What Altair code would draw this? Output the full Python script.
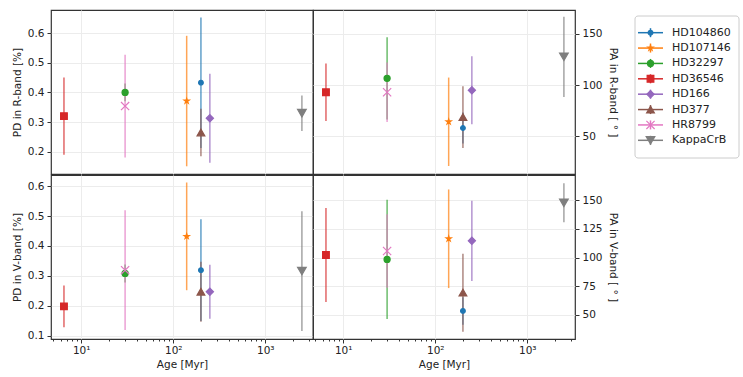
import altair as alt
import pandas as pd

series = ["HD104860", "HD107146", "HD32297", "HD36546", "HD166", "HD377", "HR8799", "KappaCrB"]
age = [200, 140, 30, 6.5, 250, 200, 30, 2500]

pd_r = [0.433, 0.371, 0.40, 0.32, 0.313, 0.265, 0.354, 0.33]
pd_r_err = [0.22, 0.22, 0.03, 0.13, 0.15, 0.08, 0.173, 0.06]
pd_v = [0.319, 0.432, 0.308, 0.198, 0.247, 0.247, 0.319, 0.316]
pd_v_err = [0.17, 0.18, 0.03, 0.07, 0.09, 0.10, 0.20, 0.20]
pa_r = [58.2, 64.3, 106.6, 93.0, 94.9, 68.9, 93.0, 127.5]
pa_r_err = [15, 43, 40, 28, 33, 30, 29, 39]
pa_v = [53.5, 116.4, 98.4, 102.2, 114.6, 69.4, 105.7, 147.7]
pa_v_err = [12, 43, 52, 41, 35, 34, 32, 17]

colors = ["#1f77b4", "#ff7f0e", "#2ca02c", "#d62728", "#9467bd", "#8c564b", "#e377c2", "#7f7f7f"]
STAR = ("M0,-1L0.225,-0.309L0.951,-0.309L0.363,0.118L0.588,0.809L0,0.382"
        "L-0.588,0.809L-0.363,0.118L-0.951,-0.309L-0.225,-0.309Z")
XMARK = "M-1,-1L1,1M-1,1L1,-1"
shapes = ["circle", STAR, "circle", "square", "diamond", "triangle-up", XMARK, "triangle-down"]
sizes = [22, 75, 55, 52, 75, 60, 40, 60]

df = pd.DataFrame({
    "series": series, "age": age,
    "pd_r": pd_r, "pd_r_err": pd_r_err, "pd_v": pd_v, "pd_v_err": pd_v_err,
    "pa_r": pa_r, "pa_r_err": pa_r_err, "pa_v": pa_v, "pa_v_err": pa_v_err,
})

FONT = "DejaVu Sans"
GRID = "#ececec"
W, H = 262, 164

cscale = alt.Scale(domain=series, range=colors)
sscale = alt.Scale(domain=series, range=shapes)
zscale = alt.Scale(domain=series, range=sizes)
xscale = alt.Scale(type="log", domain=[4.7, 3300], nice=False)

decades = [10, 100, 1000]
all_ticks = [5, 6, 7, 8, 9, 10, 20, 30, 40, 50, 60, 70, 80, 90, 100,
             200, 300, 400, 500, 600, 700, 800, 900, 1000, 2000, 3000]
is_major = "indexof([10,100,1000], datum.value) >= 0"


def x_axis(show):
    if show:
        return alt.Axis(
            values=all_ticks, title="Age [Myr]", grid=True,
            gridColor=GRID, gridOpacity={"condition": {"test": is_major, "value": 1}, "value": 0},
            tickSize={"condition": {"test": is_major, "value": 4}, "value": 2},
            labelExpr="datum.value == 10 ? '10¹' : datum.value == 100 ? '10²' : datum.value == 1000 ? '10³' : ''",
            labelPadding=2, titlePadding=4, domain=False, tickColor="#333",
        )
    return alt.Axis(values=decades, labels=False, ticks=False, domain=False,
                    title=None, grid=True, gridColor=GRID, minExtent=0, maxExtent=0)


def panel(ycol, title, domain, ticks, orient, show_x, fmt):
    scale = alt.Scale(domain=domain, nice=False, zero=False)
    yaxis = alt.Axis(values=ticks, title=title, orient=orient, format=fmt, grid=True,
                     gridColor=GRID, tickSize=4, tickColor="#333", domain=False,
                     labelPadding=3, titlePadding=5)
    x = alt.X("age:Q", scale=xscale, axis=x_axis(show_x))
    base = alt.Chart(df).transform_calculate(
        lo=f"datum.{ycol} - datum.{ycol}_err",
        hi=f"datum.{ycol} + datum.{ycol}_err",
    )
    rules = base.mark_rule(strokeWidth=1.5, opacity=0.7).encode(
        x=x,
        y=alt.Y("lo:Q", scale=scale, axis=yaxis),
        y2="hi:Q",
        color=alt.Color("series:N", scale=cscale, legend=None),
    )
    points = base.mark_point(filled=True, opacity=1, strokeWidth=1.2).encode(
        x=x,
        y=alt.Y(f"{ycol}:Q", scale=scale, axis=yaxis),
        color=alt.Color("series:N", scale=cscale, legend=None),
        stroke=alt.Stroke("series:N", scale=cscale, legend=None),
        shape=alt.Shape("series:N", scale=sscale, legend=None),
        size=alt.Size("series:N", scale=zscale, legend=None),
    )
    return alt.layer(rules, points).properties(width=W, height=H)


tl = panel("pd_r", "PD in R-band [%]", [0.125, 0.678], [0.2, 0.3, 0.4, 0.5, 0.6], "left", False, ".1f")
tr = panel("pa_r", "PA in R-band [ ° ]", [13.5, 173], [50, 100, 150], "right", False, "d")
bl = panel("pd_v", "PD in V-band [%]", [0.089, 0.637], [0.1, 0.2, 0.3, 0.4, 0.5, 0.6], "left", True, ".1f")
br = panel("pa_v", "PA in V-band [ ° ]", [29, 172], [50, 75, 100, 125, 150], "right", True, "d")

grid = alt.vconcat(
    alt.hconcat(tl, tr, spacing=0, bounds="flush").resolve_scale(y="independent"),
    alt.hconcat(bl, br, spacing=0, bounds="flush").resolve_scale(y="independent"),
    spacing=-2.4,
).resolve_scale(y="independent")

# legend panel
LW, LH = 106, 148
leg_df = pd.DataFrame({"series": series})
ly = alt.Y("series:N", sort=series, scale=alt.Scale(type="point", range=[15, 138]), axis=None)
frame = alt.Chart(pd.DataFrame({"series": [series[0]]})).mark_rect(
    fill="white", stroke="#cccccc", strokeWidth=1, cornerRadius=3
).encode(x=alt.value(0), x2=alt.value(LW - 2), y=alt.value(6), y2=alt.value(LH))
lline = alt.Chart(leg_df).mark_rule(strokeWidth=1.5).encode(
    x=alt.value(3), x2=alt.value(28), y=ly,
    color=alt.Color("series:N", scale=cscale, legend=None),
)
lvert = alt.Chart(leg_df).mark_rule(strokeWidth=1.5, yOffset=-4.5, y2Offset=4.5).encode(
    x=alt.value(15.5), y=ly, y2=alt.Y2("series:N"),
    color=alt.Color("series:N", scale=cscale, legend=None),
)
lpts = alt.Chart(leg_df).mark_point(filled=True, opacity=1, strokeWidth=1.2).encode(
    x=alt.value(15.5), y=ly,
    color=alt.Color("series:N", scale=cscale, legend=None),
    stroke=alt.Stroke("series:N", scale=cscale, legend=None),
    shape=alt.Shape("series:N", scale=sscale, legend=None),
    size=alt.Size("series:N", scale=zscale, legend=None),
)
ltxt = alt.Chart(leg_df).mark_text(align="left", baseline="middle", font=FONT, fontSize=11, color="#222").encode(
    x=alt.value(37), y=ly, text="series:N",
)
legend = alt.layer(frame, lline, lvert, lpts, ltxt).properties(
    width=LW, height=LH, view=alt.ViewBackground(stroke=None)
)

chart = alt.hconcat(grid, legend, spacing=16).resolve_scale(y="independent").properties(
    padding={"left": 11, "top": 9, "right": 2, "bottom": 2}, background="white"
).configure_view(
    stroke="#333333", strokeWidth=1.2
).configure_axis(
    labelFont=FONT, titleFont=FONT, labelFontSize=10.5, titleFontSize=10.5,
    labelColor="#222", titleColor="#222", titleFontWeight="normal",
)

chart.save("out.html", embed_options={"renderer": "svg", "actions": False})
